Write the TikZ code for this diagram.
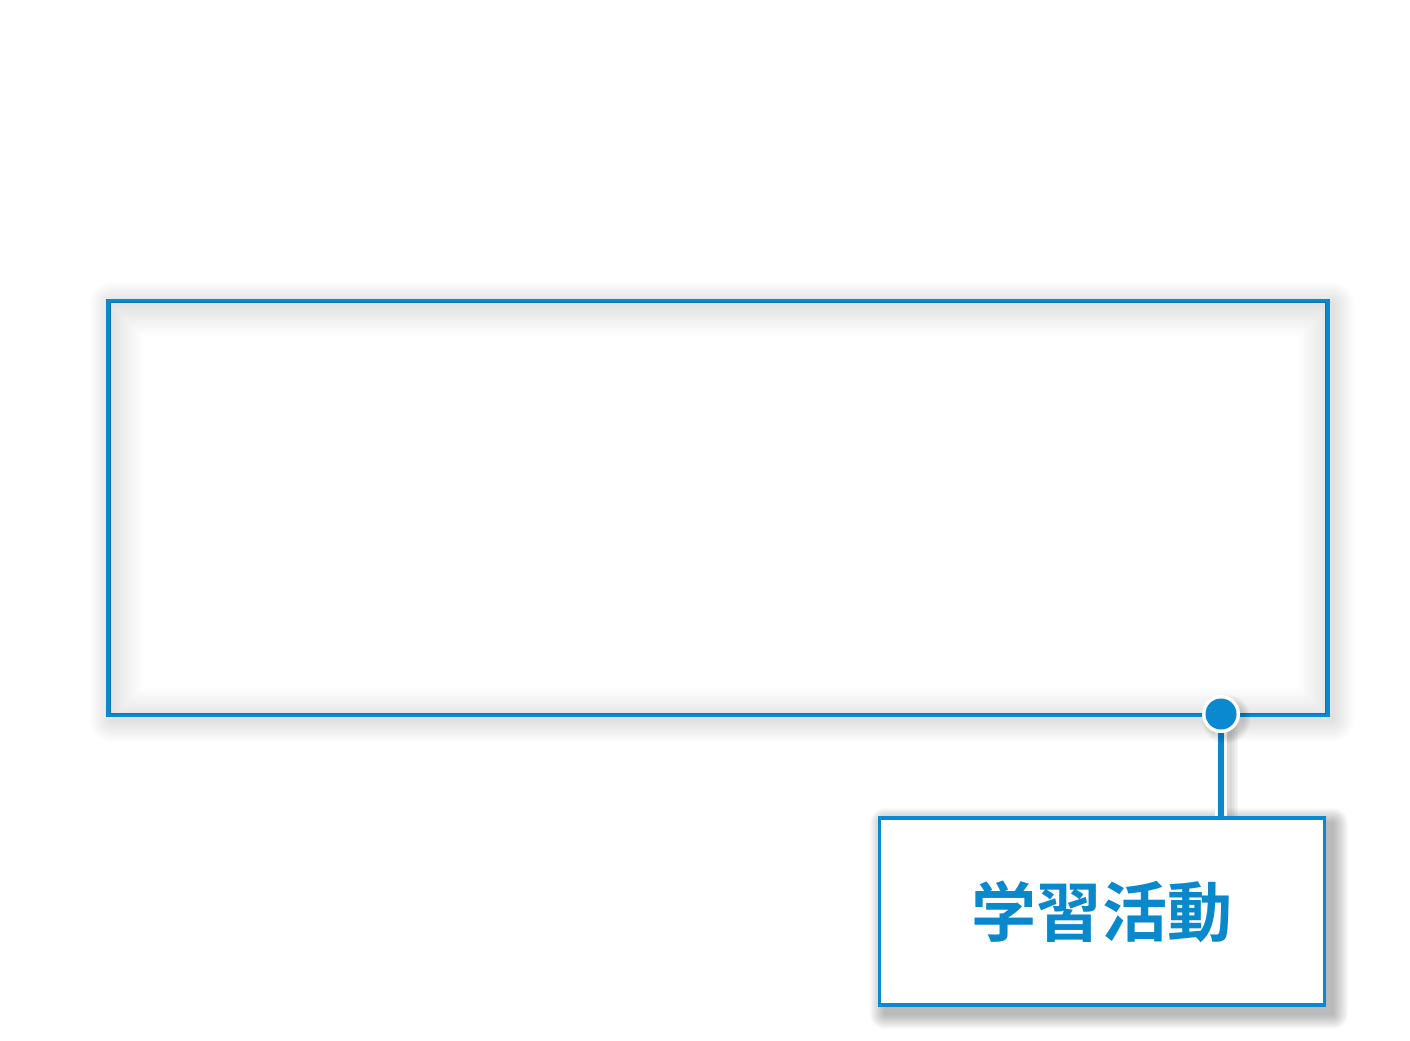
\documentclass[tikz,border=0pt]{standalone}
\usepackage{fontspec}
\newfontfamily\jpfont{Noto Sans CJK JP}[BoldFont={Noto Sans CJK JP Bold}]
\usetikzlibrary{positioning, calc, backgrounds}
\definecolor{lineblue}{HTML}{0A88D0}
\definecolor{textblue}{HTML}{0A88CC}
\tikzset{
  panel/.style={draw=lineblue, line width=0.9pt, fill=white, rectangle, inner sep=0pt}
}
% soft blurred shadow behind a named node: node, offset, growth per layer, opacity per layer
\newcommand{\blurshadow}[4]{%
  \begin{scope}[on background layer]
    \foreach \k in {1,...,10}
      \fill[black, opacity=#4, rounded corners=\k*#3] ([xshift=#2-\k*#3, yshift=-#2-\k*#3]#1.south west) rectangle ([xshift=#2+\k*#3, yshift=-#2+\k*#3]#1.north east);
  \end{scope}}
\begin{document}
\begin{tikzpicture}[x=0.01cm, y=-0.01cm]
        \useasboundingbox (0,0) rectangle (1410,1040);

        % Frame
        \node[panel, minimum width=12.16cm, minimum height=4.12cm] (frame) at (718,508) {};
        \blurshadow{frame}{0.04cm}{0.022cm}{0.011}

        % Inner shadow of the frame
        \begin{scope}
          \clip (frame.south west) rectangle (frame.north east);
          \foreach \k in {1,...,14}
            \draw[black, opacity=0.006, line width=\k*0.045cm] ([xshift=0.03cm, yshift=-0.04cm]frame.south west) rectangle ([xshift=0.03cm, yshift=-0.04cm]frame.north east);
        \end{scope}
        \draw[lineblue, line width=0.9pt] (frame.south west) rectangle (frame.north east);

        % Label box
        \node[panel, minimum width=4.44cm, minimum height=1.87cm, font=\jpfont\bfseries\fontsize{18.5}{22}\selectfont, text=textblue] (label) at (1102,911.5) {学習活動};
        \blurshadow{label}{0.07cm}{0.015cm}{0.03}

        % Connector
        \coordinate (pin) at (1221,714);
        \foreach \k in {1,...,5}
          \draw[black, opacity=0.03, line width=2pt+\k*0.9pt] ([xshift=0.06cm, yshift=-0.04cm]pin) -- ([xshift=0.06cm]pin |- label.north);
        \draw[white, line width=3.6pt] (pin) -- (pin |- label.north);
        \draw[lineblue, line width=1.7pt] (pin) -- (pin |- label.north);
        \foreach \k in {1,...,5}
          \fill[black, opacity=0.03] ([xshift=0.05cm, yshift=-0.05cm]pin) circle (0.17cm+\k*0.015cm);
        \fill[white] (pin) circle (0.19cm);
        \fill[lineblue] (pin) circle (0.155cm);
\end{tikzpicture}
\end{document}
